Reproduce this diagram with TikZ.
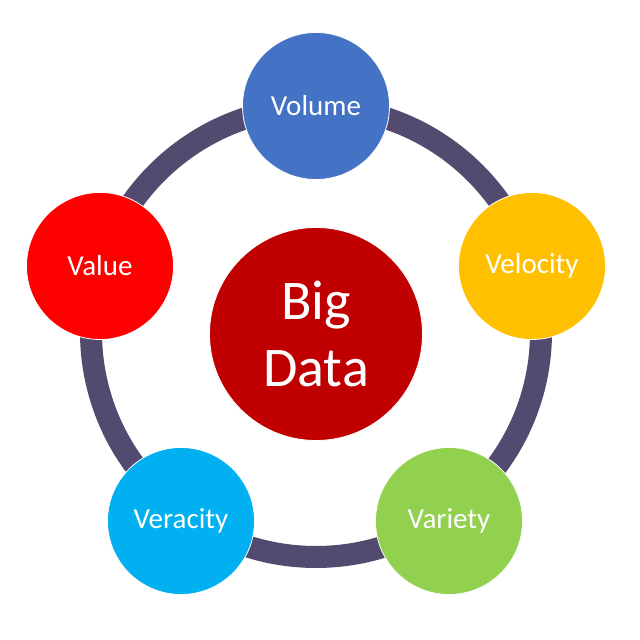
\documentclass[tikz,border=0pt]{standalone}
\usepackage{fontspec}
\setmainfont{Carlito}
\usetikzlibrary{positioning}
\definecolor{vring}{HTML}{524A6F}
\definecolor{vblue}{HTML}{4472C4}
\definecolor{vgold}{HTML}{FFC000}
\definecolor{vgreen}{HTML}{92D050}
\definecolor{vcyan}{HTML}{00B0F0}
\definecolor{vred}{HTML}{FF0000}
\definecolor{vdark}{HTML}{C00000}

\begin{document}
\begin{tikzpicture}[
  x=1pt,y=1pt,
  vbubble/.style={circle,draw=white,line width=0.8pt,minimum size=147pt,inner sep=0pt,
    text=white,font=\fontsize{29}{35}\selectfont},
  hub/.style={circle,fill=vdark,draw=white,line width=0.8pt,minimum size=213pt,inner sep=0pt,
    text=white,align=center,font=\fontsize{56}{67}\selectfont},
  ring/.style={vring,line width=22pt}]
\useasboundingbox (0,0) rectangle (640,640);

% ---------- the ring behind everything ----------
\coordinate (mid) at (316,308);
\draw[ring] (mid) circle[radius=225];

% ---------- centre ----------
\node[hub] (bigdata) at (316,306) {Big\\Data};

% ---------- the five V's round the ring ----------
\node[vbubble,fill=vblue]  (volume)   at (316,534) {Volume};
\node[vbubble,fill=vgold]  (velocity) at (532,374) {Velocity};
\node[vbubble,fill=vgreen] (variety)  at (449,119) {Variety};
\node[vbubble,fill=vcyan]  (veracity) at (181,119) {Veracity};
\node[vbubble,fill=vred]   (value)    at (100,374) {Value};
\end{tikzpicture}
\end{document}
